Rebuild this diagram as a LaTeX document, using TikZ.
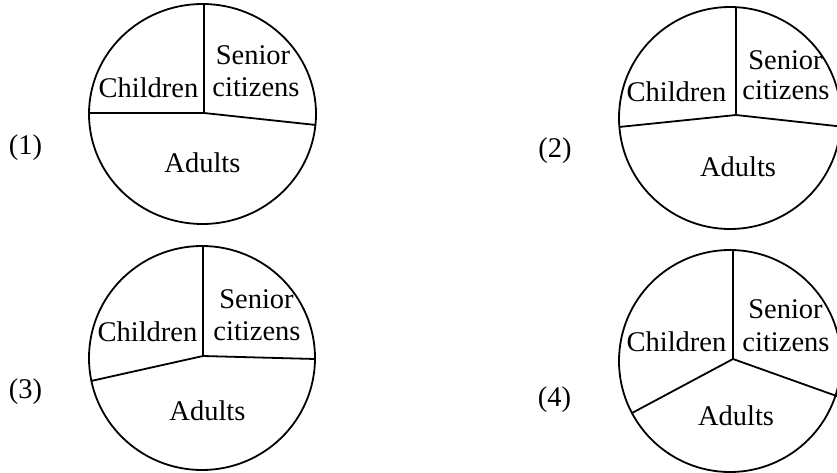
\documentclass[tikz,border=0pt]{standalone}
\usepackage{fontspec}
\setmainfont{Liberation Serif}
\tikzset{
  pie/.style={line width=1.8pt, draw=black},
  cut/.style={line width=1.8pt, draw=black},
  lbl/.style={anchor=base, inner sep=0pt, font=\fontsize{28.5}{32}\selectfont},
}
\begin{document}
\begin{tikzpicture}[x=1pt, y=-1pt]
\useasboundingbox (0,0) rectangle (837,473);
\clip (0,0) rectangle (837,473);
% ---------- pie 1
\draw[pie] (202.5,114) ellipse [x radius=113.5, y radius=110];
\coordinate (j1) at (204,113);
\coordinate (t1) at (204,4);
\coordinate (l1) at (89,113);
\coordinate (r1) at (316,125);
\draw[cut] (t1) -- (j1);
\draw[cut] (l1) -- (j1) -- (r1);
\node[lbl] (c1) at (148.5,98) {Children};
\node[lbl] (s1) at (253,65) {Senior};
\node[lbl] (z1) at (256,97) {citizens};
\node[lbl] (a1) at (202.5,173) {Adults};
\node[lbl] (n1) at (25.5,155) {(1)};
% ---------- pie 2
\draw[pie] (730,118) circle [radius=111];
\coordinate (j2) at (736,115);
\coordinate (t2) at (736,7);
\coordinate (l2) at (619,127);
\coordinate (r2) at (845,127);
\draw[cut] (t2) -- (j2);
\draw[cut] (l2) -- (j2) -- (r2);
\node[lbl] (c2) at (676.5,102) {Children};
\node[lbl] (s2) at (785.5,70) {Senior};
\node[lbl] (z2) at (786,100) {citizens};
\node[lbl] (a2) at (738,177) {Adults};
\node[lbl] (n2) at (555,158) {(2)};
% ---------- pie 3
\draw[pie] (202,358) ellipse [x radius=113, y radius=112];
\coordinate (j3) at (203,356);
\coordinate (t3) at (203,246);
\coordinate (l3) at (91,381);
\coordinate (r3) at (315,359);
\draw[cut] (t3) -- (j3);
\draw[cut] (l3) -- (j3) -- (r3);
\node[lbl] (c3) at (147.5,341) {Children};
\node[lbl] (s3) at (256.5,308) {Senior};
\node[lbl] (z3) at (257,340) {citizens};
\node[lbl] (a3) at (207.5,420) {Adults};
\node[lbl] (n3) at (25.5,398) {(3)};
% ---------- pie 4
\draw[pie] (730,361) circle [radius=111];
\coordinate (j4) at (733,359);
\coordinate (t4) at (733,250);
\coordinate (l4) at (632,413);
\coordinate (r4) at (845,399);
\draw[cut] (t4) -- (j4);
\draw[cut] (l4) -- (j4) -- (r4);
\node[lbl] (c4) at (676.5,351) {Children};
\node[lbl] (s4) at (785.5,318) {Senior};
\node[lbl] (z4) at (786,351) {citizens};
\node[lbl] (a4) at (736,425) {Adults};
\node[lbl] (n4) at (554.5,406) {(4)};
\end{tikzpicture}
\end{document}
